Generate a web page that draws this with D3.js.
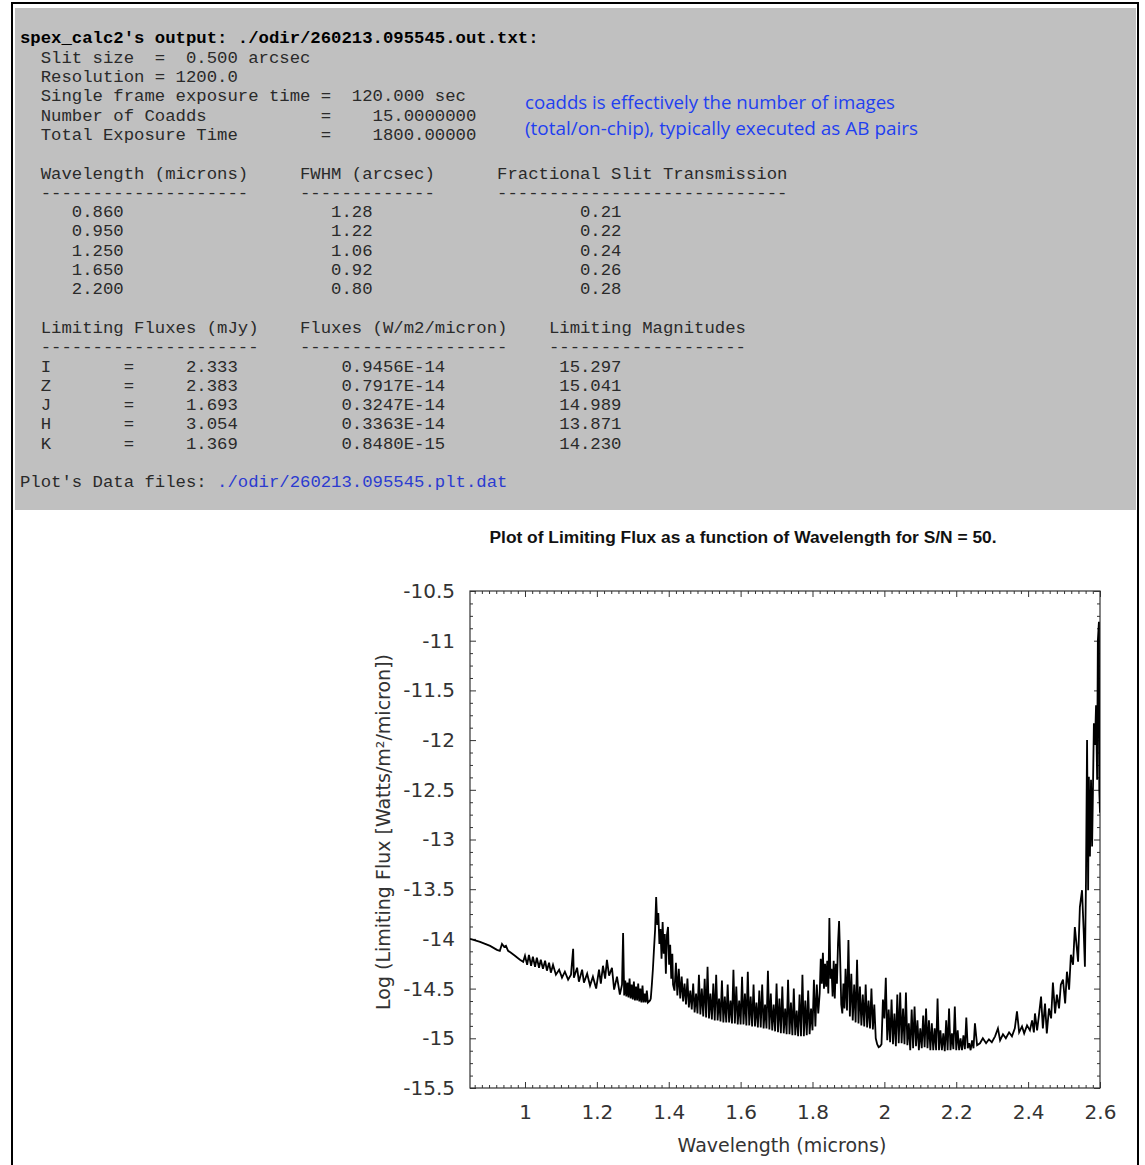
<!DOCTYPE html>
<html>
<head>
<meta charset="utf-8">
<script src="https://cdn.jsdelivr.net/npm/d3@7"></script>
<style>
  body { margin: 0; background: #fff; }
  svg { display: block; }
  .mono { font-family: "Liberation Mono", "DejaVu Sans Mono", monospace; font-size: 17.3px; fill: #2a2a2a; }
  .tick text { font-family: "DejaVu Sans", sans-serif; font-size: 20px; fill: #333; }
  .tick line { stroke: #333; }
</style>
</head>
<body>
<div id="page"></div>
<script>
// --- text output of spex_calc2 ---
const outFile = "./odir/260213.095545.out.txt:";
const datFile = "./odir/260213.095545.plt.dat";
const slitSize = "0.500";
const resolution = "1200.0";
const frameExp = "120.000";
const coadds = "15.0000000";
const totalExp = "1800.00000";

const slitWaves = ["0.860", "0.950", "1.250", "1.650", "2.200"];
const fwhm = ["1.28", "1.22", "1.06", "0.92", "0.80"];
const slitTrans = ["0.21", "0.22", "0.24", "0.26", "0.28"];

const bands = ["I", "Z", "J", "H", "K"];
const limMJy = ["2.333", "2.383", "1.693", "3.054", "1.369"];
const limFlux = ["0.9456E-14", "0.7917E-14", "0.3247E-14", "0.3363E-14", "0.8480E-15"];
const limMag = ["15.297", "15.041", "14.989", "13.871", "14.230"];

const note = ["coadds is effectively the number of images",
              "(total/on-chip), typically executed as AB pairs"];

// --- limiting flux spectrum ---
const wavelength = [
  // 0.85 - 1.0
  0.847, 0.875, 0.903, 0.922, 0.930, 0.936, 0.942, 0.947, 0.953, 0.961, 0.972, 0.986, 0.995,
  // 1.0 - 1.27
  1.000, 1.006, 1.011, 1.017, 1.022, 1.028, 1.033, 1.039, 1.044, 1.050,
  1.056, 1.061, 1.067, 1.072, 1.078, 1.086, 1.095, 1.103, 1.111, 1.120,
  1.128, 1.134, 1.136, 1.145, 1.150, 1.159, 1.164, 1.173, 1.181, 1.189,
  1.198, 1.206, 1.211, 1.217, 1.223, 1.228, 1.234, 1.242, 1.248, 1.256,
  1.264, 1.270, 1.273,
  // 1.28 - 1.35
  1.276, 1.279, 1.282, 1.285, 1.288, 1.291, 1.294, 1.297, 1.300, 1.303,
  1.306, 1.309, 1.312, 1.315, 1.318, 1.321, 1.324, 1.327, 1.330, 1.333,
  1.336, 1.339, 1.342, 1.345, 1.348,
  // 1.35 - 1.41 water band edge
  1.350, 1.353, 1.356, 1.359, 1.362, 1.365, 1.368, 1.371, 1.374, 1.377,
  1.380, 1.383, 1.386, 1.389, 1.392, 1.395, 1.398, 1.401, 1.404, 1.407, 1.410,
  // 1.41 - 1.82
  1.412, 1.416, 1.420, 1.424, 1.428, 1.432, 1.436, 1.440, 1.444, 1.448,
  1.452, 1.456, 1.460, 1.464, 1.468, 1.472, 1.476, 1.480, 1.484, 1.488,
  1.492, 1.496, 1.500, 1.504, 1.508, 1.512, 1.516, 1.520, 1.524, 1.528,
  1.532, 1.536, 1.540, 1.544, 1.548, 1.552, 1.556, 1.560, 1.564, 1.568,
  1.572, 1.576, 1.580, 1.584, 1.588, 1.592, 1.596, 1.600, 1.604, 1.608,
  1.612, 1.616, 1.620, 1.624, 1.628, 1.632, 1.636, 1.640, 1.644, 1.648,
  1.652, 1.656, 1.660, 1.664, 1.668, 1.672, 1.676, 1.680, 1.684, 1.688,
  1.692, 1.696, 1.700, 1.704, 1.708, 1.712, 1.716, 1.720, 1.724, 1.728,
  1.732, 1.736, 1.740, 1.744, 1.748, 1.752, 1.756, 1.760, 1.764, 1.768,
  1.772, 1.776, 1.780, 1.784, 1.788, 1.792, 1.796, 1.800, 1.804, 1.808,
  1.812, 1.816,
  // 1.82 - 1.89
  1.820, 1.823, 1.826, 1.829, 1.832, 1.835, 1.838, 1.841, 1.844, 1.847,
  1.850, 1.853, 1.856, 1.859, 1.862, 1.865, 1.868, 1.871, 1.874, 1.877,
  1.880, 1.883, 1.886, 1.889,
  // 1.89 - 2.25
  1.892, 1.896, 1.900, 1.904, 1.908, 1.912, 1.916, 1.920, 1.924, 1.928,
  1.932, 1.936, 1.940, 1.944, 1.948, 1.952, 1.956, 1.960, 1.964, 1.968,
  1.972, 1.976, 1.980, 1.984, 1.988, 1.992, 1.996, 2.000, 2.004, 2.008,
  2.012, 2.016, 2.020, 2.024, 2.028, 2.032, 2.036, 2.040, 2.044, 2.048,
  2.052, 2.056, 2.060, 2.064, 2.068, 2.072, 2.076, 2.080, 2.084, 2.088,
  2.092, 2.096, 2.100, 2.104, 2.108, 2.112, 2.116, 2.120, 2.124, 2.128,
  2.132, 2.136, 2.140, 2.144, 2.148, 2.152, 2.156, 2.160, 2.164, 2.168,
  2.172, 2.176, 2.180, 2.184, 2.188, 2.192, 2.196, 2.200, 2.204, 2.208,
  2.212, 2.216, 2.220, 2.224, 2.228, 2.232, 2.236, 2.240, 2.244, 2.248,
  // 2.25 - 2.6
  2.252, 2.258, 2.266, 2.274, 2.283, 2.291, 2.299, 2.308, 2.316, 2.322,
  2.330, 2.338, 2.347, 2.355, 2.363, 2.369, 2.375, 2.383, 2.389, 2.397,
  2.405, 2.411, 2.416, 2.419, 2.425, 2.430, 2.436, 2.441, 2.447, 2.452,
  2.458, 2.464, 2.469, 2.475, 2.480, 2.486, 2.491, 2.497, 2.503, 2.508,
  2.514, 2.519, 2.525, 2.530, 2.536, 2.539, 2.544, 2.550, 2.555, 2.558,
  2.561, 2.564, 2.567, 2.569, 2.572, 2.575, 2.578, 2.580, 2.583, 2.586,
  2.589, 2.592, 2.594, 2.597, 2.598, 2.600
];
const logFlux = [
  // 0.85 - 1.0
  -14.00, -14.03, -14.07, -14.11, -14.12, -14.05, -14.08, -14.07, -14.12, -14.14, -14.17, -14.21, -14.23,
  // 1.0 - 1.27
  -14.17, -14.26, -14.16, -14.27, -14.18, -14.28, -14.19, -14.29, -14.21, -14.30,
  -14.22, -14.32, -14.24, -14.34, -14.26, -14.36, -14.31, -14.39, -14.33, -14.41,
  -14.36, -14.10, -14.39, -14.29, -14.43, -14.31, -14.44, -14.35, -14.47, -14.38,
  -14.50, -14.31, -14.45, -14.27, -14.40, -14.21, -14.37, -14.29, -14.51, -14.38,
  -14.56, -14.46, -13.94,
  // 1.28 - 1.35
  -14.57, -14.42, -14.58, -14.44, -14.59, -14.40, -14.60, -14.46, -14.61, -14.43,
  -14.62, -14.48, -14.62, -14.45, -14.63, -14.50, -14.64, -14.47, -14.64, -14.55,
  -14.64, -14.52, -14.64, -14.63, -14.62,
  // 1.35 - 1.41 water band edge
  -14.60, -14.46, -14.30, -14.10, -13.91, -13.58, -13.86, -13.74, -14.05, -13.90,
  -14.20, -13.83, -14.15, -13.95, -14.35, -13.96, -13.88, -14.26, -14.06, -14.40, -14.15,
  // 1.41 - 1.82
  -14.46, -14.52, -14.24, -14.57, -14.30, -14.60, -14.38, -14.63, -14.45, -14.66,
  -14.40, -14.69, -14.52, -14.71, -14.45, -14.74, -14.55, -14.75, -14.36, -14.76,
  -14.50, -14.78, -14.40, -14.79, -14.28, -14.80, -14.55, -14.81, -14.45, -14.82,
  -14.36, -14.82, -14.60, -14.83, -14.42, -14.84, -14.58, -14.84, -14.46, -14.84,
  -14.62, -14.85, -14.31, -14.85, -14.48, -14.86, -14.62, -14.86, -14.38, -14.86,
  -14.55, -14.87, -14.33, -14.87, -14.58, -14.88, -14.46, -14.88, -14.64, -14.89,
  -14.52, -14.89, -14.46, -14.90, -14.66, -14.90, -14.32, -14.91, -14.55, -14.92,
  -14.66, -14.93, -14.45, -14.94, -14.60, -14.95, -14.48, -14.95, -14.70, -14.96,
  -14.41, -14.96, -14.64, -14.97, -14.50, -14.97, -14.72, -14.98, -14.56, -14.98,
  -14.36, -14.98, -14.62, -14.97, -14.52, -14.96, -14.70, -14.92, -14.41, -14.88,
  -14.46, -14.75,
  // 1.82 - 1.89
  -14.55, -14.20, -14.45, -14.14, -14.50, -14.25, -14.48, -14.22, -14.55, -13.79,
  -14.40, -14.30, -14.58, -14.22, -14.60, -14.25, -14.45, -14.05, -13.82, -14.20,
  -14.66, -14.75, -14.45, -14.70,
  // 1.89 - 2.25
  -14.30, -14.72, -14.01, -14.78, -14.35, -14.82, -14.46, -14.84, -14.21, -14.85,
  -14.48, -14.87, -14.56, -14.88, -14.46, -14.89, -14.62, -14.90, -14.50, -14.91,
  -14.66, -15.00, -15.06, -15.09, -15.08, -15.06, -14.61, -14.80, -14.39, -15.02,
  -14.71, -15.04, -14.61, -15.06, -14.75, -15.08, -14.56, -15.05, -14.54, -15.05,
  -14.70, -15.06, -14.54, -15.07, -14.85, -15.12, -14.71, -15.10, -14.68, -15.08,
  -14.82, -15.12, -14.90, -15.10, -14.77, -15.09, -14.70, -15.10, -14.82, -15.12,
  -14.85, -15.12, -14.90, -15.12, -14.60, -15.12, -14.92, -15.12, -14.95, -15.13,
  -14.82, -15.12, -14.70, -15.12, -14.95, -15.11, -14.68, -15.12, -14.92, -15.12,
  -15.00, -15.12, -14.97, -15.11, -14.79, -15.10, -15.05, -15.12, -15.02, -15.10,
  // 2.25 - 2.6
  -14.85, -15.07, -15.05, -15.00, -15.05, -15.01, -15.04, -14.98, -14.90, -15.02,
  -14.96, -15.00, -14.94, -14.98, -14.90, -14.73, -14.94, -14.88, -14.95, -14.87,
  -14.92, -14.82, -14.94, -14.75, -14.92, -14.77, -14.58, -14.90, -14.65, -14.95,
  -14.70, -14.80, -14.44, -14.75, -14.56, -14.70, -14.46, -14.41, -14.65, -14.33,
  -14.51, -14.16, -14.26, -13.88, -14.11, -14.23, -13.68, -13.51, -13.96, -14.28,
  -13.41, -12.00, -13.51, -12.37, -13.17, -12.40, -13.07, -12.60, -11.83, -12.05,
  -11.65, -12.40, -11.00, -10.81, -12.50, -12.73
];

const xTicks = [1, 1.2, 1.4, 1.6, 1.8, 2, 2.2, 2.4, 2.6];
const xTickLabels = ["1", "1.2", "1.4", "1.6", "1.8", "2", "2.2", "2.4", "2.6"];
const yTicks = [-10.5, -11, -11.5, -12, -12.5, -13, -13.5, -14, -14.5, -15, -15.5];
const yTickLabels = ["-10.5", "-11", "-11.5", "-12", "-12.5", "-13", "-13.5", "-14", "-14.5", "-15", "-15.5"];

const plotTitle = "Plot of Limiting Flux as a function of Wavelength for S/N = 50.";
const xTitle = "Wavelength (microns)";
const yTitle = "Log (Limiting Flux [Watts/m\u00B2/micron])";

(function() {
    const width = 1145, height = 1165;

    const svg = d3.select("#page")
        .append("svg")
        .attr("width", width)
        .attr("height", height);

    // grey text panel and outer frame
    svg.append("rect")
        .attr("x", 15).attr("y", 8)
        .attr("width", 1121).attr("height", 502)
        .attr("fill", "#c0c0c0");

    svg.append("rect")
        .attr("x", 12).attr("y", 3)
        .attr("width", 1126).attr("height", 1180)
        .attr("fill", "none")
        .attr("stroke", "#000")
        .attr("stroke-width", 2);

    // keep the fixed-width columns: spaces become non-breaking
    const keep = s => s.replace(/ /g, "\u00A0");

    const lines = [
        "  Slit size  =  " + slitSize + " arcsec",
        "  Resolution = " + resolution,
        "  Single frame exposure time =  " + frameExp + " sec",
        "  Number of Coadds".padEnd(29) + "=    " + coadds,
        "  Total Exposure Time".padEnd(29) + "=    " + totalExp,
        "",
        "  Wavelength (microns)     FWHM (arcsec)      Fractional Slit Transmission",
        "  " + "-".repeat(20) + "     " + "-".repeat(13) + "      " + "-".repeat(28),
        ...slitWaves.map((w, i) => ("     " + w).padEnd(30) + fwhm[i].padEnd(24) + slitTrans[i]),
        "",
        "  Limiting Fluxes (mJy)    Fluxes (W/m2/micron)    Limiting Magnitudes",
        "  " + "-".repeat(21) + "    " + "-".repeat(20) + "    " + "-".repeat(19),
        ...bands.map((b, i) => ("  " + b).padEnd(10) + "=".padEnd(6) + limMJy[i].padEnd(15) +
            limFlux[i].padEnd(21) + limMag[i])
    ];

    const textX = 20, base = 43.4, step = 19.3;
    const txt = svg.append("g").attr("class", "mono");

    txt.append("text")
        .attr("x", textX).attr("y", base)
        .attr("font-weight", "bold")
        .attr("fill", "#000")
        .text(keep("spex_calc2's output: " + outFile));

    lines.forEach((s, i) => {
        if (!s) return;
        txt.append("text")
            .attr("x", textX)
            .attr("y", base + step * (i + 1))
            .text(keep(s));
    });

    const last = txt.append("text")
        .attr("x", textX)
        .attr("y", base + step * 23);
    last.append("tspan").text(keep("Plot's Data files: "));
    last.append("tspan").attr("fill", "#2b3bd0").text(datFile);

    // blue annotation
    const noteW = [370, 393];
    note.forEach((s, i) => {
        svg.append("text")
            .attr("x", 525)
            .attr("y", 109 + i * 26)
            .attr("font-family", "'Open Sans', 'Noto Sans', sans-serif")
            .attr("font-size", 17.5)
            .attr("fill", "#1f3ff0")
            .attr("textLength", noteW[i])
            .attr("lengthAdjust", "spacingAndGlyphs")
            .text(s);
    });

    // --- plot ---
    const x0 = 470, x1 = 1100, y0 = 591, y1 = 1088;
    const x = d3.scaleLinear().domain([0.847, 2.6]).range([x0, x1]);
    const y = d3.scaleLinear().domain([-15.5, -10.5]).range([y1, y0]);

    svg.append("text")
        .attr("x", 743).attr("y", 543)
        .attr("text-anchor", "middle")
        .attr("font-family", "'Liberation Sans', Arial, sans-serif")
        .attr("font-weight", "bold")
        .attr("font-size", 16)
        .attr("fill", "#111")
        .attr("textLength", 507)
        .attr("lengthAdjust", "spacingAndGlyphs")
        .text(plotTitle);

    const xMinor = d3.range(0.86, 2.6, 0.02).filter(v => xTicks.every(t => Math.abs(t - v) > 0.005));
    const yMinor = d3.range(-15.5, -10.5, 0.125).filter(v => yTicks.every(t => Math.abs(t - v) > 0.01));

    // bottom axis with labels, ticks drawn inward
    svg.append("g")
        .attr("transform", `translate(0,${y1})`)
        .call(d3.axisBottom(x).tickValues(xTicks).tickSizeInner(-6).tickSizeOuter(0)
            .tickPadding(17).tickFormat((d, i) => xTickLabels[i]))
        .call(g => g.select(".domain").remove());
    svg.append("g")
        .attr("transform", `translate(0,${y1})`)
        .call(d3.axisBottom(x).tickValues(xMinor).tickSizeInner(-3).tickSizeOuter(0).tickFormat(""))
        .call(g => g.select(".domain").remove());
    // top mirror
    svg.append("g")
        .attr("transform", `translate(0,${y0})`)
        .call(d3.axisTop(x).tickValues(xTicks).tickSizeInner(-6).tickSizeOuter(0).tickFormat(""))
        .call(g => g.select(".domain").remove());
    svg.append("g")
        .attr("transform", `translate(0,${y0})`)
        .call(d3.axisTop(x).tickValues(xMinor).tickSizeInner(-3).tickSizeOuter(0).tickFormat(""))
        .call(g => g.select(".domain").remove());

    // left axis with labels
    svg.append("g")
        .attr("transform", `translate(${x0},0)`)
        .call(d3.axisLeft(y).tickValues(yTicks).tickSizeInner(-6).tickSizeOuter(0)
            .tickPadding(15).tickFormat((d, i) => yTickLabels[i]))
        .call(g => g.select(".domain").remove());
    svg.append("g")
        .attr("transform", `translate(${x0},0)`)
        .call(d3.axisLeft(y).tickValues(yMinor).tickSizeInner(-3).tickSizeOuter(0).tickFormat(""))
        .call(g => g.select(".domain").remove());
    // right mirror
    svg.append("g")
        .attr("transform", `translate(${x1},0)`)
        .call(d3.axisRight(y).tickValues(yTicks).tickSizeInner(-6).tickSizeOuter(0).tickFormat(""))
        .call(g => g.select(".domain").remove());
    svg.append("g")
        .attr("transform", `translate(${x1},0)`)
        .call(d3.axisRight(y).tickValues(yMinor).tickSizeInner(-3).tickSizeOuter(0).tickFormat(""))
        .call(g => g.select(".domain").remove());

    svg.append("rect")
        .attr("x", x0).attr("y", y0)
        .attr("width", x1 - x0).attr("height", y1 - y0)
        .attr("fill", "none")
        .attr("stroke", "#333")
        .attr("stroke-width", 1.2);

    svg.append("clipPath").attr("id", "clip")
        .append("rect")
        .attr("x", x0).attr("y", y0)
        .attr("width", x1 - x0).attr("height", y1 - y0);

    const line = d3.line()
        .x(d => x(d[0]))
        .y(d => y(d[1]));

    if (wavelength.length !== logFlux.length) console.error("length mismatch", wavelength.length, logFlux.length);

    svg.append("path")
        .datum(d3.zip(wavelength, logFlux))
        .attr("clip-path", "url(#clip)")
        .attr("d", line)
        .attr("fill", "none")
        .attr("stroke", "#000")
        .attr("stroke-width", 1.8);

    // axis titles
    svg.append("text")
        .attr("x", 782).attr("y", 1152)
        .attr("text-anchor", "middle")
        .attr("font-family", "'DejaVu Sans', sans-serif")
        .attr("font-size", 19)
        .attr("fill", "#333")
        .text(xTitle);

    svg.append("text")
        .attr("transform", "translate(390,832) rotate(-90)")
        .attr("text-anchor", "middle")
        .attr("font-family", "'DejaVu Sans', sans-serif")
        .attr("font-size", 19)
        .attr("fill", "#333")
        .text(yTitle);
})();
</script>
</body>
</html>
